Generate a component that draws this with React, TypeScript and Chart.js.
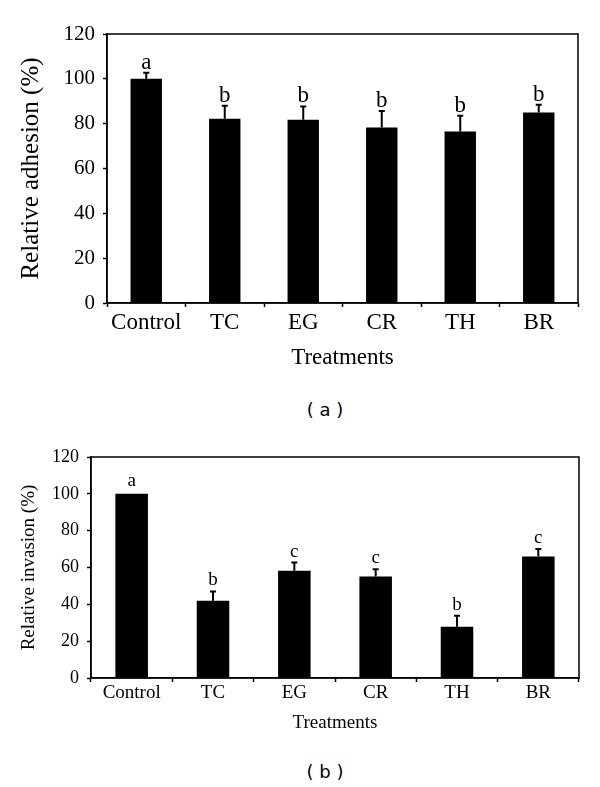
import React, { useEffect, useRef } from "react";
import { Chart, registerables } from "chart.js";

Chart.register(...registerables);

const treatments = ["Control", "TC", "EG", "CR", "TH", "BR"];
const adhesionMeans = [100, 82.2, 81.7, 78.3, 76.5, 85];
const adhesionErrors = [2.7, 5.8, 6.0, 7.3, 7.0, 3.4];
const adhesionLetters = ["a", "b", "b", "b", "b", "b"];
const invasionMeans = [100, 42, 58.2, 55.1, 27.8, 66];
const invasionErrors = [0, 5, 4.5, 4, 6, 4];
const invasionLetters = ["a", "b", "c", "c", "b", "c"];
const yMin = 0;
const yMax = 120;
const yStep = 20;

const SERIF = "'Liberation Serif', 'Times New Roman', serif";

const annotPlugin = {
  id: "annot",
  afterDatasetsDraw(chart: any, _args: any, opts: any) {
    const { ctx, chartArea } = chart;
    const meta = chart.getDatasetMeta(0);
    const y = chart.scales.y;
    ctx.save();
    ctx.strokeStyle = "#000";
    ctx.fillStyle = "#000";
    ctx.lineWidth = opts.errWidth;
    ctx.font = `${opts.letterSize}px ${SERIF}`;
    ctx.textAlign = "center";
    ctx.textBaseline = "alphabetic";
    meta.data.forEach((bar: any, i: number) => {
      const v = opts.means[i];
      const e = opts.errors[i];
      const x = bar.x;
      const yBase = y.getPixelForValue(v);
      const yTop = y.getPixelForValue(v + e);
      if (e > 0) {
        ctx.beginPath();
        ctx.moveTo(x, yBase);
        ctx.lineTo(x, yTop);
        ctx.moveTo(x - opts.cap, yTop);
        ctx.lineTo(x + opts.cap, yTop);
        ctx.stroke();
      }
      ctx.fillText(opts.letters[i], x, yTop - (e > 0 ? opts.letterGap : opts.letterGap + 2));
    });
    ctx.lineWidth = opts.frameWidth;
    ctx.strokeRect(
      chartArea.left,
      chartArea.top,
      chartArea.right - chartArea.left,
      chartArea.bottom - chartArea.top
    );
    ctx.restore();
  },
};

type Spec = {
  width: number;
  height: number;
  means: number[];
  errors: number[];
  letters: string[];
  yTitle: string;
  padTop: number;
  padRight: number;
  yWidth: number;
  xHeight: number;
  yTickSize: number;
  xTickSize: number;
  xTitleSize: number;
  yTitleSize: number;
  yTitlePad: number;
  xTickPad: number;
  xTitlePadBottom: number;
  letterSize: number;
  letterGap: number;
};

function BarPanel({ spec }: { spec: Spec }) {
  const ref = useRef<HTMLCanvasElement | null>(null);
  useEffect(() => {
    if (!ref.current) return;
    const chart = new Chart(ref.current, {
      type: "bar",
      data: {
        labels: treatments,
        datasets: [
          {
            data: spec.means,
            backgroundColor: "#000",
            borderWidth: 0,
            categoryPercentage: 1,
            barPercentage: 0.4,
          },
        ],
      },
      options: {
        responsive: false,
        animation: false,
        layout: {
          padding: { top: spec.padTop, right: spec.padRight, left: 0, bottom: 0 },
        },
        plugins: {
          legend: { display: false },
          tooltip: { enabled: false },
          annot: {
            means: spec.means,
            errors: spec.errors,
            letters: spec.letters,
            errWidth: 2,
            cap: 3,
            frameWidth: 1.5,
            letterSize: spec.letterSize,
            letterGap: spec.letterGap,
          },
        } as any,
        scales: {
          x: {
            grid: {
              offset: true,
              drawOnChartArea: false,
              drawTicks: true,
              tickLength: 4,
              tickWidth: 1.5,
              tickColor: "#000",
            },
            border: { display: true, color: "#000", width: 1.5 },
            ticks: {
              color: "#000",
              padding: spec.xTickPad,
              font: { family: SERIF, size: spec.xTickSize },
              maxRotation: 0,
            },
            title: {
              display: true,
              text: "Treatments",
              color: "#000",
              font: { family: SERIF, size: spec.xTitleSize },
              padding: { top: 0, bottom: spec.xTitlePadBottom },
            },
            afterFit: (s: any) => {
              s.height = spec.xHeight;
            },
          },
          y: {
            min: yMin,
            max: yMax,
            grid: {
              drawOnChartArea: false,
              drawTicks: true,
              tickLength: 4,
              tickWidth: 1.5,
              tickColor: "#000",
            },
            border: { display: true, color: "#000", width: 1.5 },
            ticks: {
              stepSize: yStep,
              color: "#000",
              padding: 8,
              font: { family: SERIF, size: spec.yTickSize },
            },
            title: {
              display: true,
              text: spec.yTitle,
              color: "#000",
              font: { family: SERIF, size: spec.yTitleSize },
              padding: { top: spec.yTitlePad, bottom: 0 },
            },
            afterFit: (s: any) => {
              s.width = spec.yWidth;
            },
          },
        },
      },
      plugins: [annotPlugin as any],
    });
    return () => chart.destroy();
  }, [spec]);
  return (
    <canvas
      ref={ref}
      width={spec.width}
      height={spec.height}
      style={{ display: "block", width: spec.width, height: spec.height }}
    />
  );
}

const topSpec: Spec = {
  width: 600,
  height: 380,
  means: adhesionMeans,
  errors: adhesionErrors,
  letters: adhesionLetters,
  yTitle: "Relative adhesion (%)",
  padTop: 34,
  padRight: 22,
  yWidth: 107,
  xHeight: 77,
  yTickSize: 21,
  xTickSize: 23,
  xTitleSize: 23,
  yTitleSize: 25,
  yTitlePad: 16,
  xTickPad: 2,
  xTitlePadBottom: 8,
  letterSize: 23,
  letterGap: 4,
};

const bottomSpec: Spec = {
  width: 600,
  height: 320,
  means: invasionMeans,
  errors: invasionErrors,
  letters: invasionLetters,
  yTitle: "Relative invasion (%)",
  padTop: 37,
  padRight: 21,
  yWidth: 91,
  xHeight: 62,
  yTickSize: 18,
  xTickSize: 19,
  xTitleSize: 19,
  yTitleSize: 19,
  yTitlePad: 18,
  xTickPad: 0,
  xTitlePadBottom: 6,
  letterSize: 19,
  letterGap: 6,
};

const captionStyle: React.CSSProperties = {
  position: "absolute",
  left: 0,
  width: 650,
  textAlign: "center",
  fontFamily: "'DejaVu Sans', Verdana, sans-serif",
  fontSize: 18,
  lineHeight: "22px",
  color: "#000",
  whiteSpace: "pre",
};

export default function App() {
  return (
    <div
      style={{
        position: "absolute",
        left: 0,
        top: 0,
        width: 600,
        height: 787,
        background: "#fff",
        overflow: "hidden",
      }}
    >
      <div style={{ position: "absolute", left: 0, top: 0 }}>
        <BarPanel spec={topSpec} />
      </div>
      <div style={{ ...captionStyle, top: 399 }}>( a )</div>
      <div style={{ position: "absolute", left: 0, top: 420 }}>
        <BarPanel spec={bottomSpec} />
      </div>
      <div style={{ ...captionStyle, top: 761 }}>( b )</div>
    </div>
  );
}
